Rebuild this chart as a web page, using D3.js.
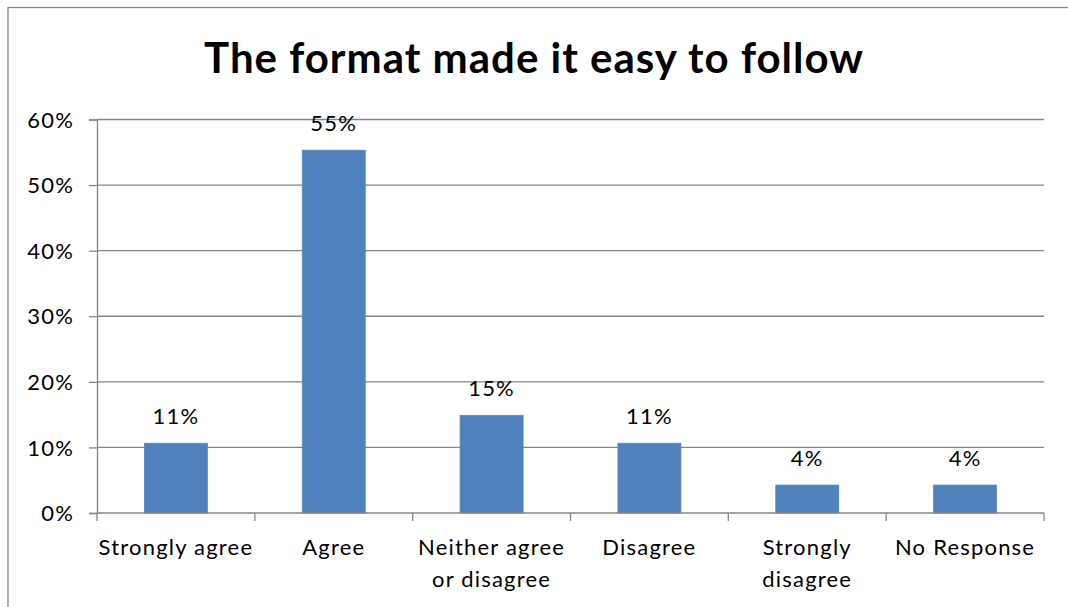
<!DOCTYPE html>
<html>
<head>
<meta charset="utf-8">
<script src="https://cdn.jsdelivr.net/npm/d3@7"></script>
<style>
  html, body { margin: 0; padding: 0; background: #fff; }
  svg { display: block; font-family: Lato, "Open Sans", sans-serif; }
</style>
</head>
<body>
<svg id="chart" width="1068" height="607"></svg>
<script>
// Survey responses: share of respondents per answer
const categories = ["Strongly agree", "Agree", "Neither agree or disagree", "Disagree", "Strongly disagree", "No Response"];
const values = [0.1064, 0.5532, 0.1489, 0.1064, 0.0426, 0.0426];
const valueLabels = ["11%", "55%", "15%", "11%", "4%", "4%"];
const yTicks = [0, 0.1, 0.2, 0.3, 0.4, 0.5, 0.6];
const title = "The format made it easy to follow";

const svg = d3.select("#chart");
const W = 1068, H = 607;
const plot = { left: 97, right: 1044, top: 119.5, bottom: 513 };
const labelSize = 22, labelSpacing = 1.2;

// chart frame
svg.append("rect")
  .attr("x", 8).attr("y", 7.5)
  .attr("width", W + 20).attr("height", H + 20)
  .attr("fill", "#fff").attr("stroke", "#868686").attr("stroke-width", 1.3);

svg.append("text")
  .attr("x", 534).attr("y", 73)
  .attr("text-anchor", "middle")
  .attr("font-weight", "bold")
  .attr("font-size", 42)
  .attr("letter-spacing", 1)
  .attr("fill", "#000")
  .text(title);

const x = d3.scaleBand().domain(categories).range([plot.left, plot.right]).paddingInner(0).paddingOuter(0);
const y = d3.scaleLinear().domain([0, 0.6]).range([plot.bottom, plot.top]);

// horizontal gridlines
svg.append("g").selectAll("line").data(yTicks.slice(1)).join("line")
  .attr("x1", plot.left).attr("x2", plot.right)
  .attr("y1", d => y(d)).attr("y2", d => y(d))
  .attr("stroke", "#868686").attr("stroke-width", 1.3);

// y axis
const yAxis = svg.append("g").attr("transform", `translate(${plot.left},0)`)
  .call(d3.axisLeft(y).tickValues(yTicks).tickFormat(d3.format(".0%")).tickSize(8).tickPadding(15));
yAxis.select(".domain").attr("stroke", "#868686").attr("stroke-width", 1.3);
yAxis.selectAll(".tick line").attr("stroke", "#868686").attr("stroke-width", 1.3);
yAxis.selectAll(".tick text").attr("font-size", labelSize).attr("letter-spacing", labelSpacing)
  .attr("fill", "#000").attr("font-family", "Lato, sans-serif").attr("dy", "0.35em");

// bars
const barW = 63;
svg.append("g").selectAll("rect").data(values).join("rect")
  .attr("x", (d, i) => x(categories[i]) + x.bandwidth() / 2 - barW / 2)
  .attr("y", d => y(d))
  .attr("width", barW)
  .attr("height", d => y(0) - y(d))
  .attr("fill", "#4F81BD")
  .attr("stroke", "#5A8AC4").attr("stroke-width", 0.8);

// value labels
svg.append("g").selectAll("text").data(values).join("text")
  .attr("x", (d, i) => x(categories[i]) + x.bandwidth() / 2)
  .attr("y", d => y(d) - 19)
  .attr("text-anchor", "middle")
  .attr("font-size", labelSize)
  .attr("letter-spacing", labelSpacing)
  .attr("fill", "#000")
  .text((d, i) => valueLabels[i]);

// x axis baseline and category ticks
svg.append("line")
  .attr("x1", plot.left).attr("x2", plot.right)
  .attr("y1", plot.bottom).attr("y2", plot.bottom)
  .attr("stroke", "#868686").attr("stroke-width", 1.3);
const bounds = categories.map(c => x(c)).concat([plot.right]);
svg.append("g").selectAll("line").data(bounds).join("line")
  .attr("x1", d => d).attr("x2", d => d)
  .attr("y1", plot.bottom).attr("y2", plot.bottom + 8)
  .attr("stroke", "#868686").attr("stroke-width", 1.3);

// category labels, wrapped on two lines where needed
const wrapped = {
  "Neither agree or disagree": ["Neither agree", "or disagree"],
  "Strongly disagree": ["Strongly", "disagree"]
};
const catText = svg.append("g").selectAll("text").data(categories).join("text")
  .attr("text-anchor", "middle")
  .attr("font-size", labelSize)
  .attr("letter-spacing", labelSpacing)
  .attr("fill", "#000");
catText.each(function(d) {
  const lines = wrapped[d] || [d];
  const t = d3.select(this);
  lines.forEach((ln, k) => {
    t.append("tspan").attr("x", x(d) + x.bandwidth() / 2).attr("y", 555 + k * 32).text(ln);
  });
});
</script>
</body>
</html>
